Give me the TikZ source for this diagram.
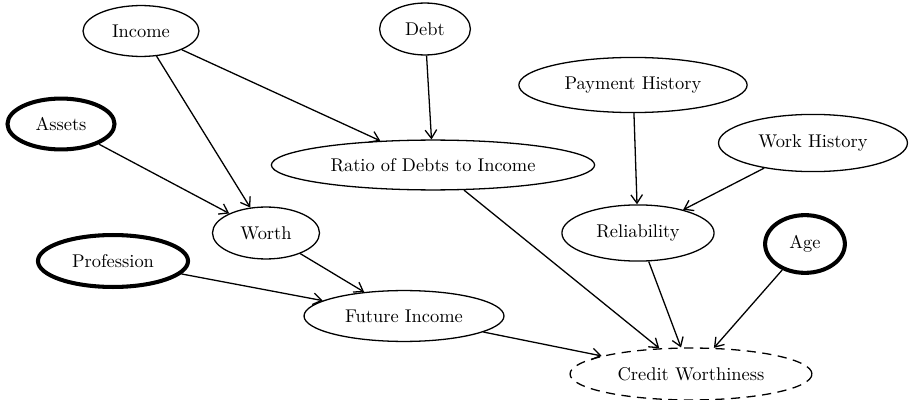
\documentclass[tikz,border=0pt]{standalone}
\usepackage{tikz}
\usetikzlibrary{arrows.meta, shapes.geometric}

\begin{document}
\begin{tikzpicture}[
  x=0.01906cm, y=-0.01906cm,
  var/.style={ellipse, draw, line width=0.7pt, inner sep=1pt, font=\normalsize},
  given/.style={var, line width=2.2pt},
  target/.style={var, dash pattern=on 5pt off 3.5pt},
  edge/.style={-{Straight Barb[length=1.6mm, width=2.2mm]}, line width=0.7pt},
]
  \useasboundingbox (0,0) rectangle (909,400);

  \node[var, minimum width=2.21cm, minimum height=0.97cm] (income) at (141,31) {Income};
  \node[var, minimum width=1.73cm, minimum height=0.99cm] (debt) at (425,29) {Debt};
  \node[given, minimum width=2.04cm, minimum height=0.97cm] (assets) at (61,124) {Assets};
  \node[var, minimum width=4.35cm, minimum height=1.05cm] (payment) at (633,85) {Payment History};
  \node[var, minimum width=3.6cm, minimum height=1.09cm] (work) at (813,143) {Work History};
  \node[var, minimum width=6.16cm, minimum height=0.95cm] (ratio) at (433,165) {Ratio of Debts to Income};
  \node[var, minimum width=2.04cm, minimum height=0.99cm] (worth) at (266,233) {Worth};
  \node[var, minimum width=2.9cm, minimum height=1.07cm] (reliab) at (638,233) {Reliability};
  \node[given, minimum width=1.52cm, minimum height=1.1cm] (age) at (805,244) {Age};
  \node[given, minimum width=2.86cm, minimum height=0.99cm] (profession) at (113,261) {Profession};
  \node[var, minimum width=3.81cm, minimum height=0.97cm] (future) at (404,316) {Future Income};
  \node[target, minimum width=4.61cm, minimum height=0.99cm] (credit) at (691,374) {Credit Worthiness};

  \draw[edge] (income) -- (worth);
  \draw[edge] (income) -- (ratio);
  \draw[edge] (debt) -- (ratio);
  \draw[edge] (assets) -- (worth);
  \draw[edge] (payment) -- (reliab);
  \draw[edge] (work) -- (reliab);
  \draw[edge] (ratio) -- (credit);
  \draw[edge] (worth) -- (future);
  \draw[edge] (profession) -- (future);
  \draw[edge] (future) -- (credit);
  \draw[edge] (reliab) -- (credit);
  \draw[edge] (age) -- (credit);
\end{tikzpicture}
\end{document}
